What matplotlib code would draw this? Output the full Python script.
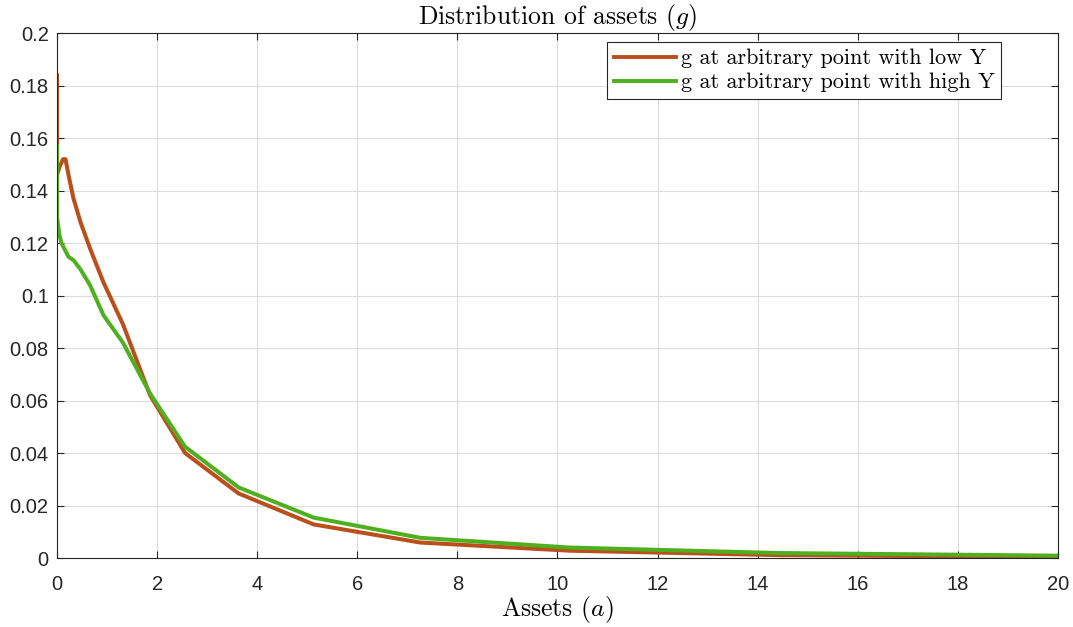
import matplotlib
matplotlib.use("Agg")
import matplotlib.pyplot as plt

plt.rcParams["mathtext.fontset"] = "cm"
plt.rcParams["axes.formatter.use_mathtext"] = False

# ── Data ──────────────────────────────────────────────────────────────
a_low = [0, 0, 0.05, 0.12, 0.17, 0.23, 0.33, 0.47, 0.66, 0.93, 1.32, 1.86,
         2.56, 3.63, 5.13, 7.26, 10.24, 14.44, 20]
g_low = [0.184, 0.146, 0.149, 0.152, 0.152, 0.146, 0.137, 0.128, 0.118,
         0.105, 0.089, 0.062, 0.040, 0.0246, 0.0128, 0.0059, 0.0028,
         0.0011, 0.0004]

a_high = [0, 0, 0.05, 0.09, 0.17, 0.23, 0.33, 0.47, 0.66, 0.93, 1.32, 1.86,
          2.56, 3.63, 5.13, 7.26, 10.24, 14.44, 20]
g_high = [0.157, 0.130, 0.123, 0.120, 0.117, 0.1148, 0.1135, 0.110, 0.104,
          0.0925, 0.082, 0.0627, 0.0424, 0.0269, 0.0154, 0.0077, 0.0040,
          0.0019, 0.0009]

labels = ["g at arbitrary point with low Y", "g at arbitrary point with high Y"]
xticks = list(range(0, 21, 2))
yticks = [0, 0.02, 0.04, 0.06, 0.08, 0.1, 0.12, 0.14, 0.16, 0.18, 0.2]
ytick_labels = ["0", "0.02", "0.04", "0.06", "0.08", "0.1", "0.12", "0.14",
                "0.16", "0.18", "0.2"]

RED = "#BA4F1C"
GREEN = "#4EB01F"
AXC = "#262626"
SERIF = ["cmr10", "DejaVu Serif"]

fig = plt.figure(figsize=(10.73, 6.27), dpi=100)
ax = fig.add_axes([0.0531, 0.110, 0.9329, 0.837])

ax.plot(a_low, g_low, color=RED, lw=2.9, label=labels[0], solid_joinstyle="round")
ax.plot(a_high, g_high, color=GREEN, lw=2.9, label=labels[1], solid_joinstyle="round")

ax.set_xlim(0, 20)
ax.set_ylim(0, 0.2)
ax.set_xticks(xticks)
ax.set_yticks(yticks)
ax.set_yticklabels(ytick_labels)

for lbl in ax.get_xticklabels() + ax.get_yticklabels():
    lbl.set_fontfamily("Liberation Sans")
    lbl.set_fontsize(14.5)
    lbl.set_color(AXC)

ax.tick_params(direction="in", length=5, width=0.8, color=AXC,
               top=True, right=True)
ax.tick_params(axis="x", pad=12)
ax.tick_params(axis="y", pad=6)
ax.grid(True, color="#dcdcdc", lw=0.8)
ax.set_axisbelow(True)
for s in ax.spines.values():
    s.set_color(AXC)
    s.set_linewidth(0.8)

ax.set_title("Distribution of assets $(g)$", fontsize=18.5, family=SERIF,
             color="black", pad=7)
ax.set_xlabel("Assets $(a)$", fontsize=18.5, family=SERIF, color="black",
              labelpad=0)

leg = ax.legend(loc="upper right", bbox_to_anchor=(0.943, 0.983),
                prop={"family": SERIF, "size": 16},
                handlelength=2.8, handletextpad=0.2, borderpad=0.3,
                labelspacing=0.2, fancybox=False, framealpha=1,
                edgecolor=AXC, borderaxespad=0)
leg.get_frame().set_linewidth(0.8)
for line in leg.get_lines():
    line.set_linewidth(2.8)

fig.savefig("out.png", dpi=100, facecolor="white")
